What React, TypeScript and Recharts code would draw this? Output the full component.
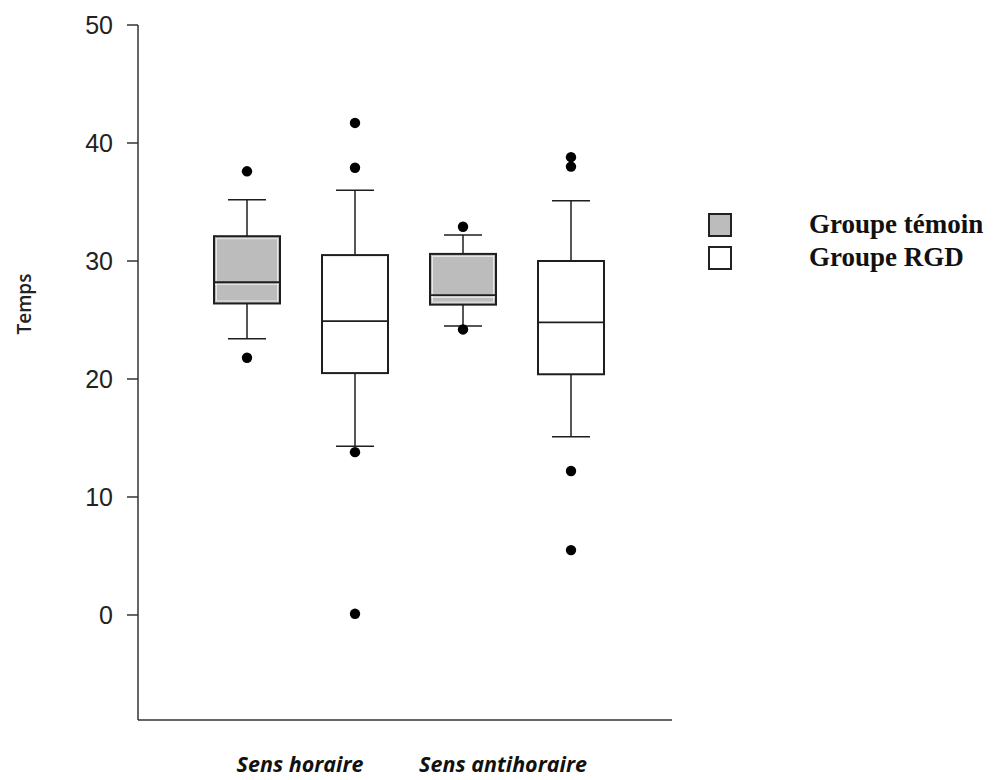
import React from "react";
import {
  ComposedChart,
  Bar,
  Line,
  XAxis,
  YAxis,
  Legend,
} from "recharts";

// one box per sense x group
const boxIds = ["horaire-temoin", "horaire-rgd", "antihoraire-temoin", "antihoraire-rgd"];
const boxGroup = ["Groupe témoin", "Groupe RGD", "Groupe témoin", "Groupe RGD"];
const senseLabels = ["Sens horaire", "", "Sens antihoraire", ""];

const whiskerLow = [23.4, 14.3, 24.5, 15.1];
const q1 = [26.4, 20.5, 26.3, 20.4];
const median = [28.2, 24.9, 27.1, 24.8];
const q3 = [32.1, 30.5, 30.6, 30.0];
const whiskerHigh = [35.2, 36.0, 32.2, 35.1];
const outliers = [
  [21.8, 37.6],
  [0.1, 13.8, 37.9, 41.7],
  [24.2, 32.9],
  [5.5, 12.2, 38.0, 38.8],
];

const yTicks = [0, 10, 20, 30, 40, 50];
const legendItems = ["Groupe témoin", "Groupe RGD"];

const FILL: Record<string, string> = {
  "Groupe témoin": "#bcbcbc",
  "Groupe RGD": "#ffffff",
};

const data = boxIds.map((id, i) => ({
  id,
  group: boxGroup[i],
  box: [q1[i], q3[i]],
  lo: whiskerLow[i],
  med: median[i],
  hi: whiskerHigh[i],
  o1: outliers[i][0] ?? null,
  o2: outliers[i][1] ?? null,
  o3: outliers[i][2] ?? null,
  o4: outliers[i][3] ?? null,
}));

const INK = "#1e1e1e";

// draws box, median and whiskers; pixel positions come from the bar's own scaled rect
function BoxShape(props: any) {
  const { x, y, width, height, payload } = props;
  const [lo, hi] = payload.box;
  const top = Math.min(y, y + height);
  const h = Math.abs(height);
  const py = (v: number) => top + ((hi - v) * h) / (hi - lo);
  const cx = x + width / 2;
  const cap = 19;
  const gray = payload.group === "Groupe témoin";
  return (
    <g>
      <line x1={cx} x2={cx} y1={py(payload.hi)} y2={top} stroke={INK} strokeWidth={1.5} />
      <line x1={cx} x2={cx} y1={top + h} y2={py(payload.lo)} stroke={INK} strokeWidth={1.5} />
      <line x1={cx - cap} x2={cx + cap} y1={py(payload.hi)} y2={py(payload.hi)} stroke={INK} strokeWidth={1.5} />
      <line x1={cx - cap} x2={cx + cap} y1={py(payload.lo)} y2={py(payload.lo)} stroke={INK} strokeWidth={1.5} />
      <rect x={x} y={top} width={width} height={h} fill={FILL[payload.group]} stroke={INK} strokeWidth={2} />
      {gray && (
        <rect x={x + 2.5} y={top + 2.5} width={width - 5} height={h - 5} fill="none" stroke="#e8e8e8" strokeWidth={1} />
      )}
      {gray && (
        <line x1={x + 1} x2={x + width - 1} y1={py(payload.med) + 2} y2={py(payload.med) + 2} stroke="#f2f2f2" strokeWidth={1} />
      )}
      <line x1={x} x2={x + width} y1={py(payload.med)} y2={py(payload.med)} stroke={INK} strokeWidth={1.8} />
    </g>
  );
}

function SenseTick(props: any) {
  const { x, y, payload } = props;
  const label = senseLabels[payload.index];
  if (!label) return null;
  const shift = payload.index === 0 ? 53 : 40;
  return (
    <text
      x={x + shift}
      y={y + 44}
      textAnchor="middle"
      fill="#111"
      style={{ fontFamily: "'Open Sans', sans-serif", fontSize: 21.5, fontWeight: 700, fontStyle: "italic" }}
    >
      {label}
    </text>
  );
}

function LegendBox() {
  return (
    <div style={{ fontFamily: "'Liberation Serif', serif", fontWeight: 700, fontSize: 27, color: "#111" }}>
      {legendItems.map((name) => (
        <div key={name} style={{ display: "flex", alignItems: "center", height: 33, whiteSpace: "nowrap" }}>
          <span
            style={{
              display: "inline-block",
              width: 20,
              height: 20,
              border: "2.5px solid #222",
              background: FILL[name],
              boxSizing: "content-box",
            }}
          />
          <span style={{ marginLeft: 77, lineHeight: "33px" }}>{name}</span>
        </div>
      ))}
    </div>
  );
}

export default function App() {
  return (
    <div style={{ width: 980, height: 772, background: "#fff" }}>
      <ComposedChart
        width={980}
        height={772}
        data={data}
        margin={{ top: 17, right: 316, bottom: 0, left: 0 }}
      >
        <XAxis
          dataKey="id"
          type="category"
          height={60}
          padding={{ left: 55, right: 47 }}
          tickLine={false}
          axisLine={{ stroke: "#333", strokeWidth: 1.5 }}
          tick={<SenseTick />}
          interval={0}
        />
        <YAxis
          width={130}
          domain={[-8.9, 50]}
          ticks={yTicks}
          allowDataOverflow
          tickSize={11}
          tickMargin={14}
          axisLine={{ stroke: "#333", strokeWidth: 1.5 }}
          tickLine={{ stroke: "#333", strokeWidth: 1.5 }}
          tick={{ fill: "#222", fontSize: 25, fontFamily: "'Liberation Sans', Arial, sans-serif" }}
          label={{
            content: () => (
              <text
                x={16}
                y={296}
                transform="rotate(-90, 16, 296)"
                textAnchor="middle"
                dominantBaseline="central"
                fill="#222"
                style={{ fontFamily: "'Open Sans', sans-serif", fontSize: 19, fontWeight: 600 }}
              >
                Temps
              </text>
            ),
          }}
        />
        <Legend
          layout="vertical"
          align="center"
          verticalAlign="middle"
          content={<LegendBox />}
          wrapperStyle={{ position: "absolute", left: 700, top: 200, width: 280, height: 70 }}
        />
        <Bar dataKey="box" barSize={66} shape={<BoxShape />} isAnimationActive={false} legendType="none" />
        {["o1", "o2", "o3", "o4"].map((k) => (
          <Line
            key={k}
            dataKey={k}
            stroke="none"
            dot={{ r: 5.2, fill: "#000", stroke: "none" }}
            activeDot={false}
            isAnimationActive={false}
            legendType="none"
          />
        ))}
      </ComposedChart>
    </div>
  );
}
